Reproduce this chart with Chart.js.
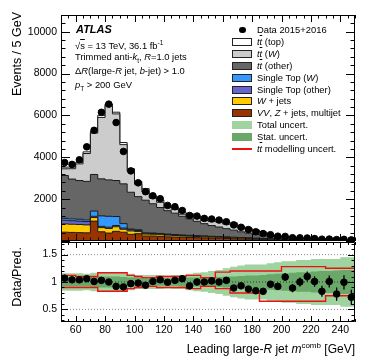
<!DOCTYPE html>
<html>
<head>
<meta charset="utf-8">
<script src="https://cdn.jsdelivr.net/npm/chart.js@4.4.1/dist/chart.umd.min.js"></script>
<style>
  body { margin:0; width:374px; height:359px; position:relative; overflow:hidden; background:#fff;
         font-family:"Liberation Sans", Arial, sans-serif; color:#000; }
  canvas { position:absolute; left:0; }
  #main { top:0; }
  #ratio { top:241px; }
  .t { position:absolute; white-space:nowrap; font-size:9.4px; line-height:10px; }
  .box { position:absolute; left:232px; width:20px; height:8px; box-sizing:border-box; border:1px solid #222; }
  .vt { position:absolute; writing-mode:vertical-rl; transform:rotate(180deg); font-size:12.5px; white-space:nowrap; line-height:13px; }
</style>
</head>
<body>
<canvas id="main" width="374" height="242"></canvas>
<canvas id="ratio" width="374" height="118"></canvas>

<div class="vt" style="left:11px; top:12px;">Events / 5 GeV</div>
<div style="position:absolute; left:11px; top:242px; width:13px; height:70px; display:flex; align-items:center; justify-content:center;">
  <div class="vt" style="position:static;">Data/Pred.</div>
</div>
<div class="t" style="right:19px; top:339px; font-size:12px; line-height:13px;">Leading large-<i>R</i> jet <i>m</i><sup style="font-size:8px">comb</sup> [GeV]</div>

<div class="t" style="left:76px; top:24px; font-size:11px; font-weight:bold; font-style:italic;">ATLAS</div>
<div class="t" style="left:75px; top:38px;">&radic;<span style="text-decoration:overline">s</span> = 13 TeV, 36.1 fb<sup style="font-size:6.5px">-1</sup></div>
<div class="t" style="left:75px; top:52px;">Trimmed anti-<i>k</i><sub style="font-size:6.5px">t</sub>, <i>R</i>=1.0 jets</div>
<div class="t" style="left:75px; top:66px;">&Delta;<i>R</i>(large-<i>R</i> jet, <i>b</i>-jet) &gt; 1.0</div>
<div class="t" style="left:75px; top:80px;"><i>p</i><sub style="font-size:6.5px">T</sub> &gt; 200 GeV</div>

<div id="legend"></div>

<script>
// 5 GeV bins, 50-250 GeV
const binEdges = [50,55,60,65,70,75,80,85,90,95,100,105,110,115,120,125,130,135,140,145,
                  150,155,160,165,170,175,180,185,190,195,200,205,210,215,220,225,230,235,240,245,250];

// stacked predictions (events / bin), bottom to top
const vvZjetsMultijet = [420,410,400,390,950,440,380,460,420,320, 350,240,240,220,200,190,180,170,160,150,
                         140,130,120,110,100,90,80,70,60,55, 50,45,40,36,32,29,26,24,22,20];
const wJets = [400,390,390,380,170,200,220,220,140,160, 100,90,80,80,80,70,60,58,55,52,
               50,47,44,41,38,35,32,29,26,23, 20,18,16,14,12,11,10,9,8,7];
const singleTopOther = [170,170,160,160,60,60,60,60,60,60, 50,40,40,40,30,30,28,26,24,22,
                        20,19,18,17,16,15,14,13,12,11, 10,9,8,7,6,6,5,5,4,4];
const singleTopW = [90,90,90,80,250,500,520,430,210,40, 40,20,20,20,20,20,18,17,16,15,
                    14,13,12,11,10,9,8,7,6,5, 5,4,4,3,3,3,2,2,2,2];
const ttOther = [2050,1900,1850,1840,1750,1770,1740,1720,1900,1750, 1580,1560,1400,1240,1120,1020,895,790,685,590,
                 515,460,395,340,275,225,180,140,110,85, 65,54,44,38,33,29,27,24,22,21];
const ttW = [320,495,795,1330,1975,2935,3550,3185,1875,1005, 585,410,270,250,160,170,100,150,150,150,
             200,240,220,265,195,190,160,130,65,45, 30,27,23,19,18,17,13,13,13,12];
const ttTop = [80,80,80,80,80,100,80,80,100,120, 140,140,100,100,100,100,100,100,100,100,
               90,90,80,80,70,60,50,40,30,25, 20,18,15,13,11,10,9,8,7,6];

// data 2015+2016
const dataEvents = [3750,3660,3880,4500,5290,6150,6540,5660,4280,3350, 2780,2357,2160,2020,1700,1640,1460,1220,1190,1080,
                    1050,1000,920,770,655,545,440,355,300,230, 218,156,150,143,116,87,93,66,78,52];

// ratio panel
const ratioVals = [1.07,1.04,1.04,1.06,1.01,1.03,1.0,0.92,0.91,0.97, 0.98,0.94,1.01,1.04,0.995,1.03,1.06,0.93,1.0,1.0,
                   1.02,1.0,1.03,0.89,0.93,0.87,0.84,0.83,0.96,0.92, 1.09,0.89,1.0,1.1,1.01,0.83,1.01,0.78,0.995,0.72];
const ratioErr = [0.015,0.015,0.015,0.015,0.015,0.015,0.015,0.015,0.015,0.015, 0.02,0.02,0.02,0.02,0.02,0.02,0.02,0.02,0.02,0.02,
                  0.03,0.03,0.035,0.035,0.04,0.045,0.05,0.055,0.06,0.065, 0.07,0.075,0.08,0.09,0.095,0.1,0.11,0.12,0.13,0.14];
const totalUnc = [0.16,0.16,0.16,0.15,0.17,0.18,0.18,0.18,0.17,0.15, 0.13,0.13,0.13,0.13,0.12,0.13,0.13,0.15,0.17,0.18,
                  0.2,0.22,0.25,0.28,0.3,0.32,0.32,0.32,0.34,0.36, 0.38,0.38,0.4,0.4,0.42,0.42,0.42,0.42,0.45,0.45];
const statUnc = [0.08,0.08,0.08,0.08,0.09,0.1,0.1,0.1,0.09,0.08, 0.08,0.07,0.07,0.07,0.07,0.07,0.08,0.08,0.08,0.08,
                 0.09,0.09,0.1,0.1,0.11,0.12,0.12,0.13,0.14,0.15, 0.16,0.17,0.18,0.18,0.19,0.2,0.2,0.21,0.22,0.22];
const ttModUp = [0.12,0.12,0.1,0.1,0.1,0.17,0.17,0.17,0.17,0.12, 0.1,0.08,0.08,0.1,0.1,0.1,0.1,0.12,0.12,0.08,
                 0.08,0.18,0.18,0.2,0.2,0.2,0.2,0.2,0.2,0.2, 0.28,0.28,0.28,0.28,0.28,0.28,0.25,0.25,0.25,0.25];
const ttModDn = [0.1,0.1,0.1,0.1,0.1,0.17,0.17,0.17,0.17,0.12, 0.1,0.08,0.08,0.1,0.1,0.1,0.1,0.12,0.12,0.08,
                 0.08,0.12,0.12,0.2,0.2,0.2,0.2,0.35,0.35,0.35, 0.35,0.35,0.35,0.35,0.35,0.35,0.25,0.25,0.25,0.25];

const mainYTicks = [2000, 4000, 6000, 8000, 10000];
const ratioYTicks = [0.5, 1, 1.5];
const xTicks = [60, 80, 100, 120, 140, 160, 180, 200, 220, 240];

const layers = [
  ['VV, Z + jets, multijet', vvZjetsMultijet, '#993300'],
  ['W + jets', wJets, '#ffcc00'],
  ['Single Top (other)', singleTopOther, '#6666cc'],
  ['Single Top (W)', singleTopW, '#3399ff'],
  ['tt (other)', ttOther, '#666666'],
  ['tt (W)', ttW, '#cccccc'],
  ['tt (top)', ttTop, '#ffffff']
];

// histogram step points: value of bin i holds from edge i to edge i+1
function steps(vals, f) {
  return binEdges.map((e, i) => ({x: e, y: f(vals[Math.min(i, vals.length - 1)])}));
}
const centers = binEdges.slice(0, -1).map(e => e + 2.5);

// no extra padding for the tick labels at the ends of the axes
function fixAxis(size) {
  return s => {
    if (s.isHorizontal()) s.height = size; else s.width = size;
    s.paddingTop = 0; s.paddingBottom = 0; s.paddingLeft = 0; s.paddingRight = 0;
  };
}

// ROOT-like inward ticks + frame
const rootTicks = {
  id: 'rootTicks',
  afterDraw(chart, args, o) {
    const {ctx, chartArea: a, scales} = chart;
    ctx.save();
    ctx.strokeStyle = '#000';
    ctx.lineWidth = 1;
    ctx.beginPath();
    const xs = scales.x, ys = scales.y;
    for (let v = o.x.from; v <= xs.max + 1e-9; v += o.x.step) {
      const px = Math.round(xs.getPixelForValue(v)) + 0.5;
      const major = Math.abs(v / o.x.major - Math.round(v / o.x.major)) < 1e-6;
      const len = major ? o.x.big : o.x.small;
      ctx.moveTo(px, a.bottom); ctx.lineTo(px, a.bottom - len);
      ctx.moveTo(px, a.top); ctx.lineTo(px, a.top + len);
    }
    for (let v = o.y.from; v <= ys.max + 1e-9; v += o.y.step) {
      const py = Math.round(ys.getPixelForValue(v)) + 0.5;
      const major = Math.abs(v / o.y.major - Math.round(v / o.y.major)) < 1e-6;
      const len = major ? o.y.big : o.y.small;
      ctx.moveTo(a.left, py); ctx.lineTo(a.left + len, py);
      ctx.moveTo(a.right, py); ctx.lineTo(a.right - len, py);
    }
    ctx.rect(Math.round(a.left) + 0.5, Math.round(a.top) + 0.5, Math.round(a.width) - 1, Math.round(a.height) - 1);
    ctx.stroke();
    ctx.restore();
  }
};

// vertical error bars on ratio points
const errBars = {
  id: 'errBars',
  afterDatasetsDraw(chart, args, o) {
    if (!o.vals) return;
    const {ctx, scales} = chart;
    ctx.save();
    ctx.strokeStyle = '#000';
    ctx.lineWidth = 1.3;
    ctx.beginPath();
    o.vals.forEach((v, i) => {
      const px = scales.x.getPixelForValue(centers[i]);
      ctx.moveTo(px, scales.y.getPixelForValue(v - o.errs[i]));
      ctx.lineTo(px, scales.y.getPixelForValue(v + o.errs[i]));
    });
    ctx.stroke();
    ctx.restore();
  }
};

const tickFont = {family: '"Liberation Sans", Arial, sans-serif', size: 10.5};

const mainSets = layers.map((l, i) => ({
  label: l[0],
  data: steps(l[1], v => v),
  stepped: true,
  backgroundColor: l[2],
  borderColor: '#1a1a1a',
  borderWidth: 1,
  pointRadius: 0,
  fill: i === 0 ? 'origin' : '-1',
  stack: 'mc',
  order: 1
}));
mainSets.push({
  type: 'scatter',
  label: 'Data 2015+2016',
  data: centers.map((c, i) => ({x: c, y: dataEvents[i]})),
  backgroundColor: '#000',
  borderColor: '#000',
  pointRadius: 3.3,
  stack: 'data',
  order: 0
});

new Chart(document.getElementById('main'), {
  type: 'line',
  data: {datasets: mainSets},
  options: {
    responsive: false,
    animation: false,
    layout: {autoPadding: false, padding: {left: 0, right: 19, top: 15, bottom: 1}},
    plugins: {
      legend: {display: false},
      tooltip: {enabled: false},
      rootTicks: {x: {from: 50, step: 5, major: 20, big: 7, small: 3.5},
                  y: {from: 0, step: 400, major: 2000, big: 9, small: 4.5}}
    },
    scales: {
      x: {type: 'linear', min: 50, max: 250, display: false},
      y: {
        min: 0, max: 10800, stacked: true,
        afterBuildTicks: s => { s.ticks = mainYTicks.map(v => ({value: v})); },
        afterFit: fixAxis(61),
        grid: {display: false, drawTicks: false},
        border: {display: false},
        ticks: {color: '#000', font: tickFont, padding: 4, callback: v => String(v)}
      }
    }
  },
  plugins: [rootTicks]
});

const bandSets = [
  {data: steps(totalUnc, v => 1 + v), backgroundColor: '#9fd39f', borderWidth: 0, fill: false, order: 4},
  {data: steps(totalUnc, v => 1 - v), backgroundColor: '#9fd39f', borderWidth: 0, fill: '-1', order: 4},
  {data: steps(statUnc, v => 1 + v), backgroundColor: '#6aa86a', borderWidth: 0, fill: false, order: 3},
  {data: steps(statUnc, v => 1 - v), backgroundColor: '#6aa86a', borderWidth: 0, fill: '-1', order: 3},
  {data: steps(ttModUp, v => 1 + v), borderColor: '#ee1111', borderWidth: 1.4, fill: false, order: 2},
  {data: steps(ttModDn, v => 1 - v), borderColor: '#ee1111', borderWidth: 1.4, fill: false, order: 2}
];
const ratioSets = bandSets.map(d => Object.assign({stepped: true, pointRadius: 0}, d));
ratioYTicks.forEach(r => ratioSets.push({
  data: [{x: 50, y: r}, {x: 250, y: r}],
  borderColor: r === 1 ? '#333' : '#888',
  borderWidth: 1,
  borderDash: [1, 2],
  pointRadius: 0,
  fill: false,
  order: 1
}));
ratioSets.push({
  type: 'scatter',
  data: centers.map((c, i) => ({x: c, y: ratioVals[i]})),
  backgroundColor: '#000',
  borderColor: '#000',
  pointRadius: 3.3,
  order: 0
});

new Chart(document.getElementById('ratio'), {
  type: 'line',
  data: {datasets: ratioSets},
  options: {
    responsive: false,
    animation: false,
    layout: {autoPadding: false, padding: {left: 0, right: 19, top: 1, bottom: 0}},
    plugins: {
      legend: {display: false},
      tooltip: {enabled: false},
      errBars: {vals: ratioVals, errs: ratioErr},
      rootTicks: {x: {from: 50, step: 5, major: 20, big: 6, small: 3},
                  y: {from: 0.3, step: 0.1, major: 0.5, big: 7, small: 3.5}}
    },
    scales: {
      x: {
        type: 'linear', min: 50, max: 250,
        afterBuildTicks: s => { s.ticks = xTicks.map(v => ({value: v})); },
        afterFit: fixAxis(37),
        grid: {display: false, drawTicks: false},
        border: {display: false},
        ticks: {color: '#000', font: tickFont, padding: 2, maxRotation: 0}
      },
      y: {
        min: 0.27, max: 1.73,
        afterBuildTicks: s => { s.ticks = ratioYTicks.map(v => ({value: v})); },
        afterFit: fixAxis(61),
        grid: {display: false, drawTicks: false},
        border: {display: false},
        ticks: {color: '#000', font: tickFont, padding: 4, callback: v => String(v)}
      }
    }
  },
  plugins: [rootTicks, errBars]
});

// legend
const tt = '<i>t</i><span style="text-decoration:overline"><i>t</i></span>';
const legendRows = [
  ['Data 2015+2016', 'data'],
  [tt + ' (top)', '#ffffff'],
  [tt + ' (<i>W</i>)', '#cccccc'],
  [tt + ' (other)', '#666666'],
  ['Single Top (<i>W</i>)', '#3399ff'],
  ['Single Top (other)', '#6666cc'],
  ['<i>W</i> + jets', '#ffcc00'],
  ['<i>VV</i>, <i>Z</i> + jets, multijet', '#993300'],
  ['Total uncert.', 'tot'],
  ['Stat. uncert.', 'stat'],
  [tt + ' modelling uncert.', 'mod']
];
let html = '';
legendRows.forEach((r, i) => {
  const y = 30 + i * 11.9;
  if (r[1] === 'data') {
    html += `<div style="position:absolute;left:239px;top:${y - 3.3}px;width:6.6px;height:6.6px;border-radius:50%;background:#000"></div>`;
  } else if (r[1] === 'tot' || r[1] === 'stat') {
    html += `<div style="position:absolute;left:232px;top:${y - 4}px;width:20px;height:8px;background:${r[1] === 'tot' ? '#9fd39f' : '#6aa86a'}"></div>`;
  } else if (r[1] === 'mod') {
    html += `<div style="position:absolute;left:232px;top:${y - 0.7}px;width:20px;height:1.4px;background:#ee1111"></div>`;
  } else {
    html += `<div class="box" style="top:${y - 4}px;background:${r[1]}"></div>`;
  }
  html += `<div class="t" style="left:257px;top:${y - 5}px">${r[0]}</div>`;
});
document.getElementById('legend').innerHTML = html;
</script>
</body>
</html>
